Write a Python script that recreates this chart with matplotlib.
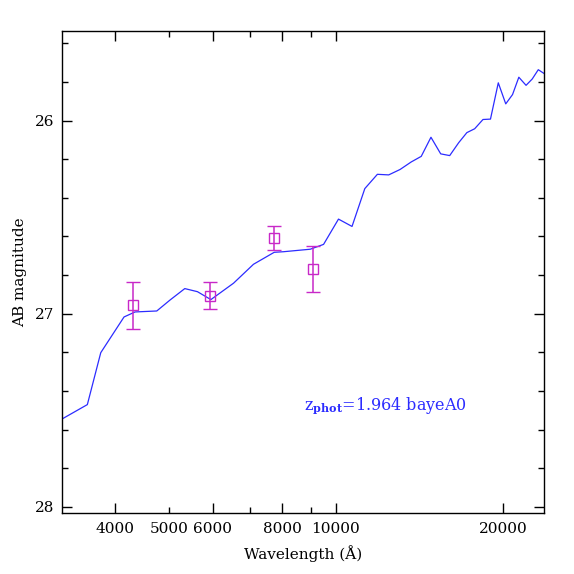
#!/usr/bin/env python3
"""SED fit plot: model template vs observed photometry"""

import matplotlib
matplotlib.use('Agg')
import matplotlib.pyplot as plt
from matplotlib.ticker import FixedLocator, FixedFormatter, NullFormatter

# Model template (wavelength in Angstrom, AB mag)
model_wave = [3150, 3561, 3765, 4147, 4341, 4751, 5021, 5337, 5625, 5948,
              6535, 7099, 7737, 8043, 8987, 9497, 10104, 10688, 11271, 11875,
              12446, 13047, 13665, 14247, 14834, 15447, 16035, 16646, 17219, 17786,
              18411, 18993, 19619, 20236, 20814, 21366, 22017, 22591, 23163, 24000]
model_mag = [27.558, 27.471, 27.202, 27.017, 26.991, 26.986, 26.929, 26.870, 26.886, 26.927,
             26.842, 26.744, 26.682, 26.679, 26.666, 26.641, 26.510, 26.548, 26.352, 26.278,
             26.281, 26.253, 26.214, 26.185, 26.086, 26.172, 26.181, 26.114, 26.062, 26.042,
             25.994, 25.992, 25.804, 25.913, 25.865, 25.775, 25.817, 25.784, 25.736, 25.765]

# Observed photometry
obs_wave = [4311, 5938, 7716, 9088]
obs_mag = [26.957, 26.907, 26.608, 26.768]
obs_err = [0.120, 0.069, 0.061, 0.120]

x_major = [4000, 6000, 8000, 10000, 20000]
x_minor = [5000, 7000, 9000]
x_major_labels = ['4000', '6000', '8000', '10000', '20000']
x_minor_labels = ['5000', '', '']

label_text = r'z$_{\mathbf{phot}}$=1.964 bayeA0'

blue = '#2c2cff'
magenta = '#c828c8'

plt.rcParams['font.family'] = 'DejaVu Serif'
plt.rcParams['mathtext.fontset'] = 'dejavuserif'

fig = plt.figure(figsize=(5.74, 5.74), dpi=100)
ax = fig.add_axes([0.1085, 0.1068, 0.8387, 0.8387])

ax.plot(model_wave, model_mag, color=blue, linewidth=0.9)
ax.errorbar(obs_wave, obs_mag, yerr=obs_err, fmt='s', color=magenta,
            markerfacecolor='none', markeredgecolor=magenta, markersize=7.2,
            markeredgewidth=1.0, elinewidth=1.1, capsize=5, capthick=1.1)

ax.set_xscale('log')
ax.set_xlim(3209, 23690)
ax.set_ylim(28.031, 25.537)

ax.xaxis.set_major_locator(FixedLocator(x_major))
ax.xaxis.set_major_formatter(FixedFormatter(x_major_labels))
ax.xaxis.set_minor_locator(FixedLocator(x_minor))
ax.xaxis.set_minor_formatter(FixedFormatter(x_minor_labels))

ax.set_yticks([26, 27, 28])
ax.set_yticklabels(['26', '27', '28'])
ax.set_yticks([25.6, 25.8, 26.2, 26.4, 26.6, 26.8, 27.2, 27.4, 27.6, 27.8], minor=True)
ax.yaxis.set_minor_formatter(NullFormatter())

ax.tick_params(which='both', direction='in', top=True, right=True,
               labelsize=11, width=1.0)
ax.tick_params(which='major', length=7.2, pad=7)
ax.tick_params(which='minor', length=4.0, pad=7)
ax.tick_params(axis='y', which='both', pad=6)
for spine in ax.spines.values():
    spine.set_linewidth(1.0)

ax.set_xlabel('Wavelength (Å)', fontsize=11, labelpad=6)
ax.set_ylabel('AB magnitude', fontsize=11, labelpad=5)

ax.text(8739, 27.477, label_text, color=blue, fontsize=11.5,
        ha='left', va='center')

plt.savefig('out.png', dpi=100)
plt.close()
